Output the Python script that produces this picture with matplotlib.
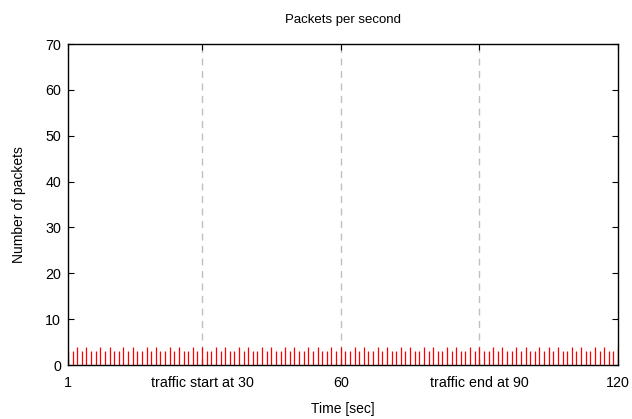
import matplotlib
matplotlib.use("Agg")
import matplotlib.pyplot as plt

plt.rcParams['font.family'] = ['Liberation Sans', 'DejaVu Sans']

title = "Packets per second"
xlabel = "Time [sec]"
ylabel = "Number of packets"

seconds = list(range(1, 121))
packets = [
    3, 3, 4, 3, 4,  3, 3, 4, 3, 4,  3, 3, 4, 3, 4,  3, 3, 4, 3, 4,
    3, 3, 4, 3, 4,  3, 3, 4, 3, 4,  3, 3, 4, 3, 4,  3, 3, 4, 3, 4,
    3, 3, 4, 3, 4,  3, 3, 4, 3, 4,  3, 3, 4, 3, 4,  3, 3, 4, 3, 4,
    3, 3, 4, 3, 4,  3, 3, 4, 3, 4,  3, 3, 4, 3, 4,  3, 3, 4, 3, 4,
    3, 3, 4, 3, 4,  3, 3, 4, 3, 4,  3, 3, 4, 3, 4,  3, 3, 4, 3, 4,
    3, 3, 4, 3, 4,  3, 4, 3, 3, 4,  3, 4, 3, 3, 4,  3, 4, 3, 3, 4,
]

xticks = [1, 30, 60, 90, 120]
xticklabels = ["1", "traffic start at 30", "60", "traffic end at 90", "120"]
grid_x = [30, 60, 90]
yticks = [0, 10, 20, 30, 40, 50, 60, 70]

fig = plt.figure(figsize=(6.32, 4.19), dpi=100)
ax = fig.add_axes([68/632, 1-365/419, (618-68)/632, (365-44)/419])

for gx in grid_x:
    ax.axvline(gx, color="#c0c0c0", lw=1.0, ls=(0, (5, 4)), zorder=1)

ax.vlines(seconds, 0, packets, colors="#ff0000", lw=0.9, zorder=2)

ax.set_xlim(1, 120)
ax.set_ylim(0, 70)
ax.set_xticks(xticks)
ax.set_xticklabels(xticklabels)
ax.set_yticks(yticks)
ax.tick_params(direction="in", length=4, width=0.8, top=True, right=True,
               labelsize=10.3, colors="black")
ax.tick_params(axis="x", pad=8)
ax.tick_params(axis="y", pad=5)
for s in ax.spines.values():
    s.set_linewidth(1.0)
    s.set_color("black")
    s.set_zorder(5)

ax.set_title(title, fontsize=9.5, pad=15)
ax.set_xlabel(xlabel, fontsize=10, labelpad=8.5)
ax.set_ylabel(ylabel, fontsize=10, labelpad=14)

fig.savefig("out.png", dpi=100)
